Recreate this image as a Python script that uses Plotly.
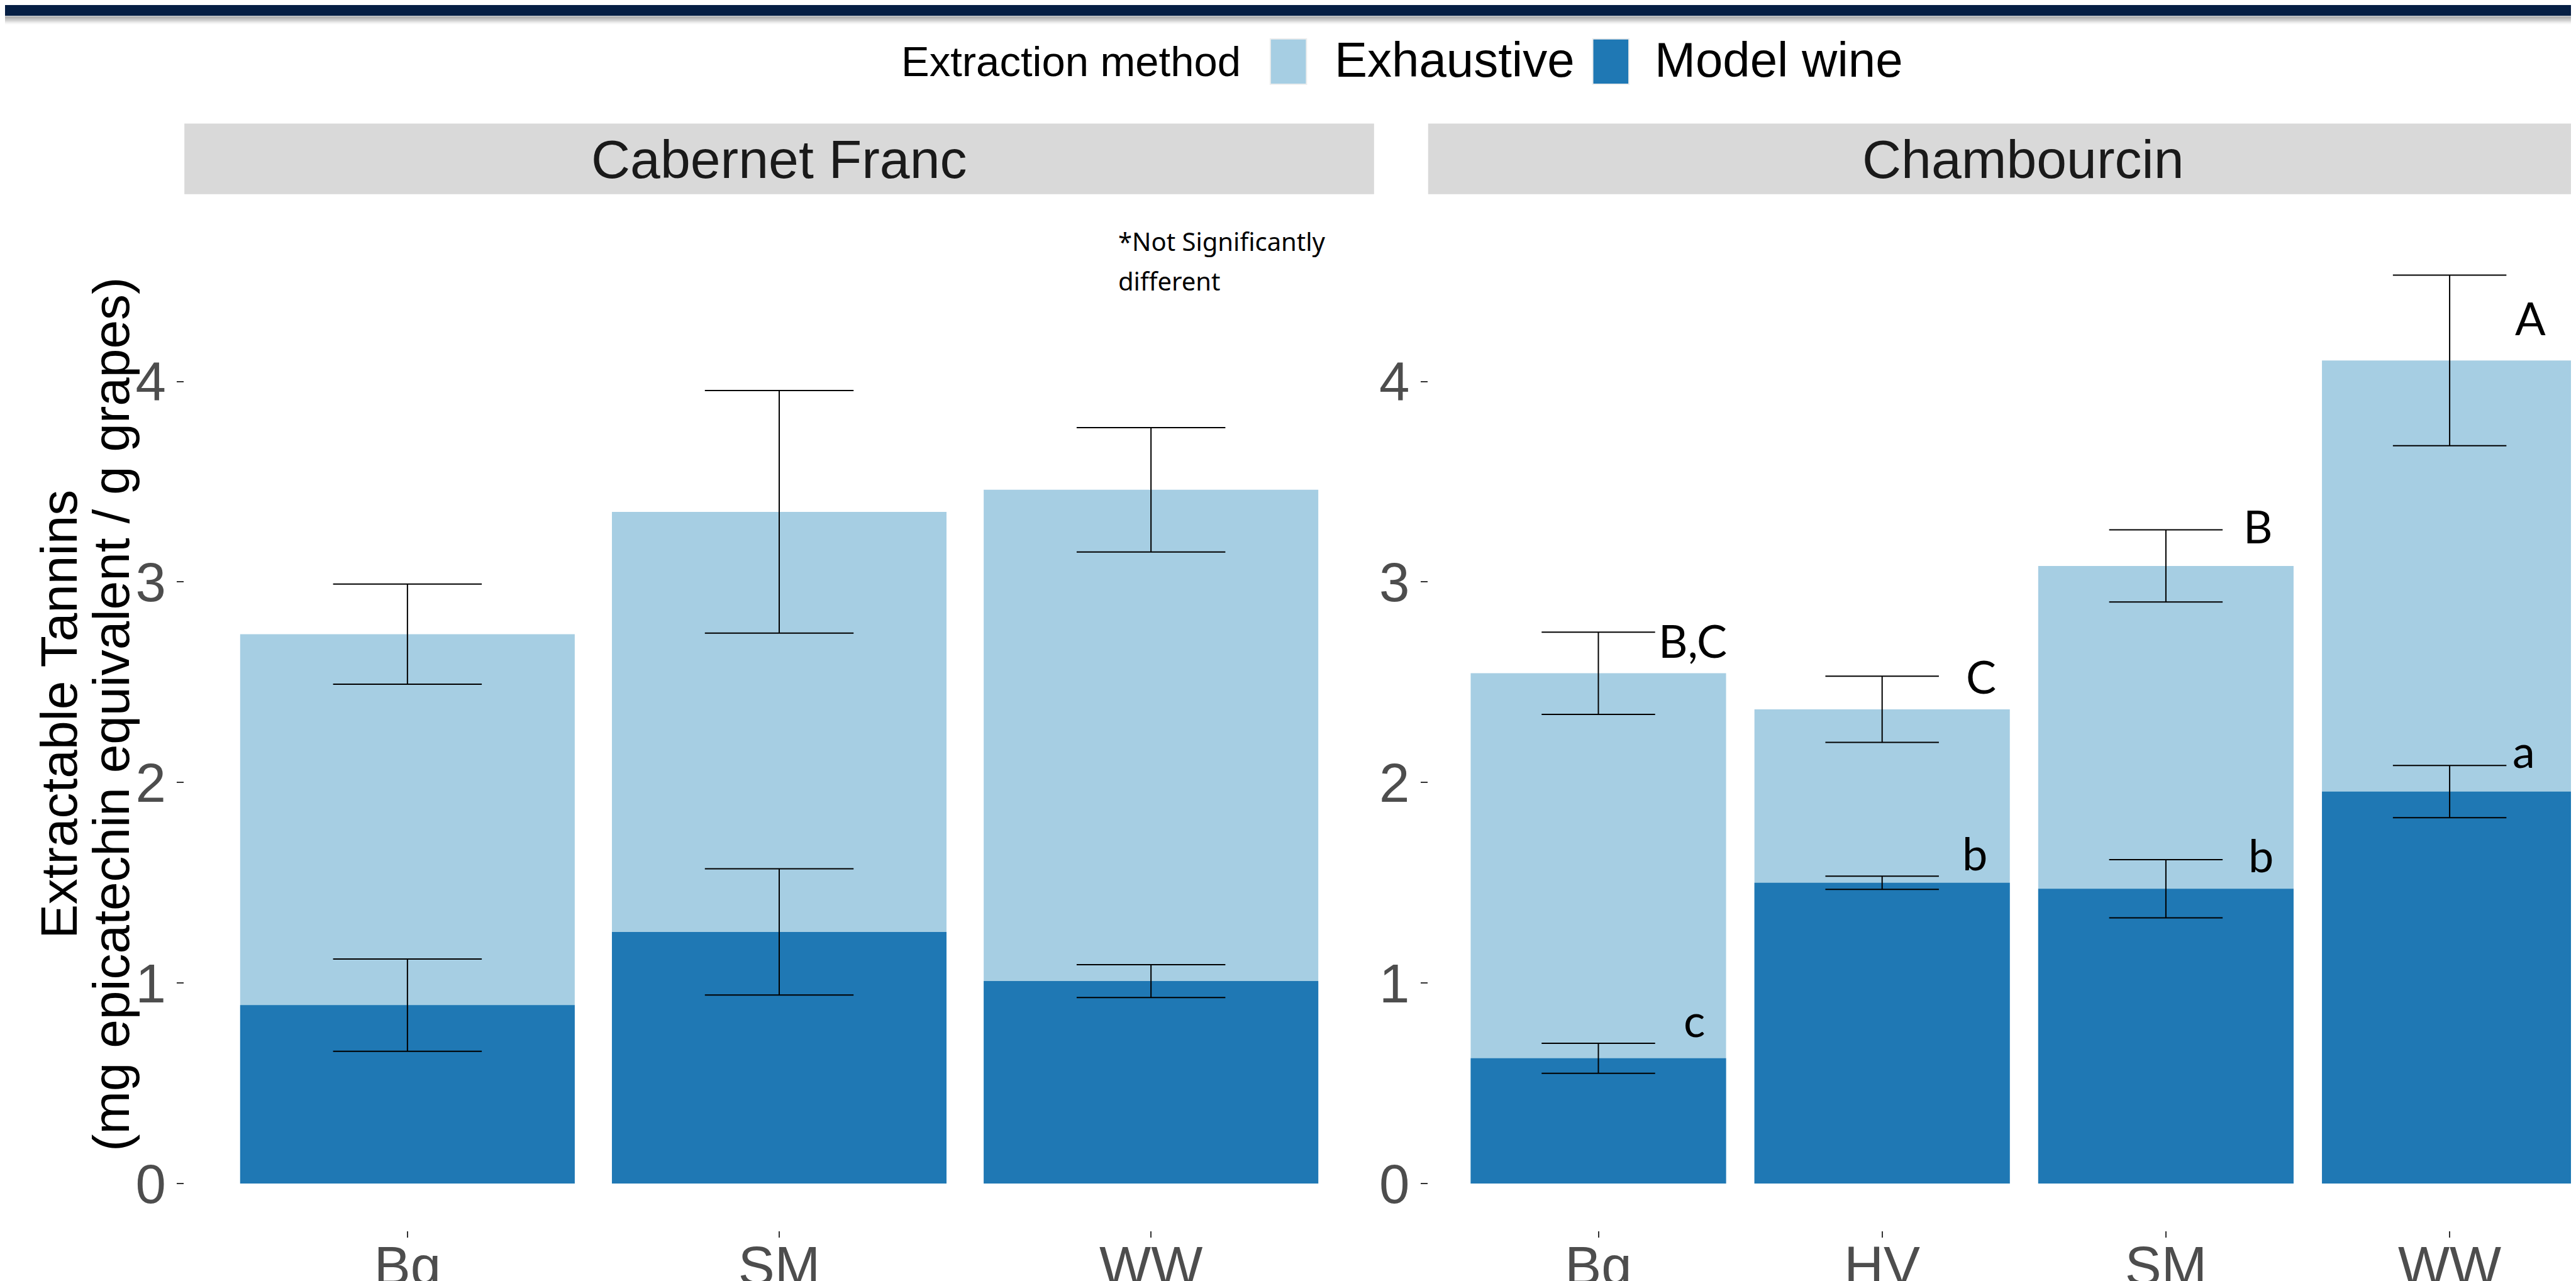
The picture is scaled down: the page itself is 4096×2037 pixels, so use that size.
import plotly.graph_objects as go

# ---------------- data ----------------
categories_cf = ["Bg", "SM", "WW"]
categories_ch = ["Bg", "HV", "SM", "WW"]

cf_exhaustive = [2.74, 3.35, 3.46]
cf_exhaustive_err = [0.25, 0.605, 0.31]
cf_model = [0.89, 1.255, 1.01]
cf_model_err = [0.23, 0.315, 0.082]

ch_exhaustive = [2.545, 2.365, 3.08, 4.105]
ch_exhaustive_err = [0.205, 0.165, 0.18, 0.425]
ch_model = [0.625, 1.50, 1.47, 1.955]
ch_model_err = [0.075, 0.033, 0.145, 0.13]

series_names = ["Exhaustive", "Model wine"]
facet_names = ["Cabernet Franc", "Chambourcin"]
legend_title = "Extraction method"
y_title_lines = ["Extractable Tannins", "(mg epicatechin equivalent / g grapes)"]
note_lines = ["*Not Significantly", "different"]

letters_ch_text = ["B,C", "c", "C", "b", "B", "b", "A", "a"]
letters_ch_cat = [0, 0, 1, 1, 2, 2, 3, 3]
letters_ch_y = [2.62, 0.73, 2.44, 1.56, 3.19, 1.55, 4.23, 2.07]
y_ticks = [0, 1, 2, 3, 4]

# ---------------- style ----------------
W, H = 4096, 2037
S = 0.9766
COL_EXH = "#A6CEE3"
COL_MOD = "#1F78B4"
ARIAL = "Liberation Sans, Arial, sans-serif"
GEO = "Lato, sans-serif"
NOTE = "Noto Sans, sans-serif"
letter_dx = [0.333, 0.338, 0.348, 0.327, 0.325, 0.335, 0.285, 0.262]


def xp(v):
    return v * S / W


def yp(v):
    return 1 - v * S / H


# panel geometry (reference pixels)
P1L, P1R = 292, 2229
P2L = 2317
PT, PB = 308, 1996
Y_RANGE = [-0.2358, 4.934]
X1_RANGE = [-0.6, 2.6]
X2_RANGE = [-0.6, 3.463]

cap1 = 0.2 * (P1R - P1L) * S / (X1_RANGE[1] - X1_RANGE[0])
cap2 = 0.2 * (W - P2L * S) / (X2_RANGE[1] - X2_RANGE[0])

fig = go.Figure()


def add_bars(cats, vals, errs, color, name, xa, ya, cap):
    fig.add_trace(go.Bar(
        x=cats, y=vals, name=name, marker=dict(color=color, line=dict(width=0)),
        width=0.9, xaxis=xa, yaxis=ya, showlegend=False,
        error_y=dict(type="data", array=errs, color="black", thickness=2, width=cap),
    ))


add_bars(categories_cf, cf_exhaustive, cf_exhaustive_err, COL_EXH, series_names[0], "x", "y", cap1)
add_bars(categories_cf, cf_model, cf_model_err, COL_MOD, series_names[1], "x", "y", cap1)
add_bars(categories_ch, ch_exhaustive, ch_exhaustive_err, COL_EXH, series_names[0], "x2", "y2", cap2)
add_bars(categories_ch, ch_model, ch_model_err, COL_MOD, series_names[1], "x2", "y2", cap2)

tickfont = dict(family=ARIAL, size=87, color="#4D4D4D")
common_x = dict(type="category", showgrid=False, zeroline=False, showline=False,
                ticks="outside", ticklen=10, tickwidth=2, tickcolor="#333333",
                tickfont=tickfont, automargin=False, fixedrange=True,
                ticklabelstandoff=-30)
common_y = dict(showgrid=False, zeroline=False, showline=False, range=Y_RANGE,
                tickvals=y_ticks, ticks="outside", ticklen=11, tickwidth=2,
                tickcolor="#333333", tickfont=tickfont, automargin=False,
                domain=[yp(PB), yp(PT)], fixedrange=True)

fig.update_layout(
    width=W, height=H, margin=dict(l=0, r=0, t=0, b=0),
    paper_bgcolor="white", plot_bgcolor="white", template="none",
    barmode="overlay", bargap=0.1,
    xaxis=dict(common_x, domain=[xp(P1L), xp(P1R)], range=X1_RANGE, anchor="y"),
    yaxis=dict(common_y, anchor="x"),
    xaxis2=dict(common_x, domain=[xp(P2L), 1.0], range=X2_RANGE, anchor="y2"),
    yaxis2=dict(common_y, anchor="x2"),
)

shapes = []
annotations = []

# top banner (slide header)
shapes.append(dict(type="rect", xref="paper", yref="paper", x0=0, x1=1, y0=yp(17.3), y1=1,
                   fillcolor="#061F44", line=dict(width=0), layer="above"))
band = [(17.3, 18.7, "#C9CDD3"), (18.7, 20.7, "#A6A6A6"), (20.7, 22.7, "#B3B3B3"),
        (22.7, 24.7, "#C3C3C3"), (24.7, 26.7, "#D5D5D5"), (26.7, 28.7, "#E6E6E6"),
        (28.7, 31.0, "#F4F4F4")]
for a, b, c in band:
    shapes.append(dict(type="rect", xref="paper", yref="paper", x0=0, x1=1, y0=yp(b), y1=yp(a),
                       fillcolor=c, line=dict(width=0), layer="above"))

# facet strips
strip_x = [(P1L, P1R), (P2L, P2L + (P1R - P1L))]
for (l, r), name in zip(strip_x, facet_names):
    shapes.append(dict(type="rect", xref="paper", yref="paper", x0=xp(l), x1=min(1.0, xp(r)),
                       y0=yp(PT), y1=yp(193), fillcolor="#D9D9D9", line=dict(width=0)))
    annotations.append(dict(text=name, xref="paper", yref="paper", x=xp((l + r) / 2), y=yp(250.5),
                            xanchor="center", yanchor="middle", showarrow=False,
                            font=dict(family=ARIAL, size=86, color="#1A1A1A")))

# y-axis title (two lines)
for txt, xc in zip(y_title_lines, [85.9, 168.9]):
    annotations.append(dict(text=txt, xref="paper", yref="paper", x=xc / W, y=yp(1155),
                            xanchor="center", yanchor="middle", textangle=-90, showarrow=False,
                            font=dict(family=ARIAL, size=82, color="black")))

# legend (manual)
annotations.append(dict(text=legend_title, xref="paper", yref="paper", x=xp(1457), y=yp(123),
                        xanchor="left", yanchor="bottom", yshift=-(0.212 * 67 + 1) + 6, showarrow=False,
                        font=dict(family=ARIAL, size=67, color="black")))
legend_keys = [(2060, 2119, 2163), (2585, 2644, 2684)]
for (k0, k1, tx), name, col in zip(legend_keys, series_names, [COL_EXH, COL_MOD]):
    shapes.append(dict(type="rect", xref="paper", yref="paper", x0=xp(k0), x1=xp(k1),
                       y0=yp(129), y1=yp(55), fillcolor=col, line=dict(width=2, color="#EEEEEE")))
    annotations.append(dict(text=name, xref="paper", yref="paper", x=xp(tx), y=yp(123),
                            xanchor="left", yanchor="bottom", yshift=-(0.212 * 78 + 1) + 5, showarrow=False,
                            font=dict(family=ARIAL, size=78, color="black")))

# note in Cabernet Franc panel
for txt, base in zip(note_lines, [408, 472]):
    annotations.append(dict(text=txt, xref="paper", yref="paper", x=xp(1810), y=yp(base),
                            xanchor="left", yanchor="bottom", yshift=-(0.293 * 40 + 1) + 6,
                            showarrow=False, font=dict(family=NOTE, size=40, color="black")))

# significance letters in Chambourcin panel
for t, c, yv, dx in zip(letters_ch_text, letters_ch_cat, letters_ch_y, letter_dx):
    annotations.append(dict(text=t, xref="x2", yref="y2", x=c + dx, y=yv,
                            xanchor="center", yanchor="bottom", yshift=-(0.213 * 72 + 1),
                            showarrow=False, font=dict(family=GEO, size=72, color="black")))

fig.update_layout(shapes=shapes, annotations=annotations)
fig.write_html("out.html")
